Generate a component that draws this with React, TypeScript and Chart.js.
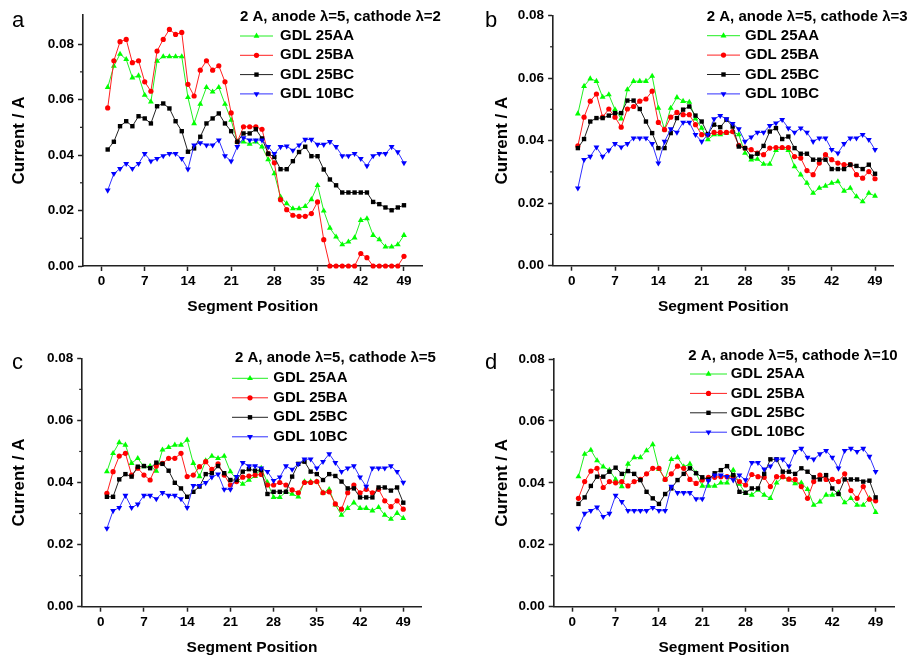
import React, { useEffect, useRef } from "react";
import { Chart, registerables } from "chart.js";

Chart.register(...registerables);

const FONT = "'Liberation Sans', Arial, Helvetica, sans-serif";

// ---------- data ----------
const segments = [
  1, 2, 3, 4, 5, 6, 7, 8, 9, 10, 11, 12, 13, 14, 15, 16, 17, 18, 19, 20, 21, 22, 23, 24, 25,
  26, 27, 28, 29, 30, 31, 32, 33, 34, 35, 36, 37, 38, 39, 40, 41, 42, 43, 44, 45, 46, 47, 48, 49,
];
const xTicks = [0, 7, 14, 21, 28, 35, 42, 49];
const yTicks = [0, 0.02, 0.04, 0.06, 0.08];
const yMinorTicks = [0.01, 0.03, 0.05, 0.07];
const seriesNames = ["GDL 25AA", "GDL 25BA", "GDL 25BC", "GDL 10BC"];
const panelTitles = [
  "2 A, anode λ=5, cathode λ=2",
  "2 A, anode λ=5, cathode λ=3",
  "2 A, anode λ=5, cathode λ=5",
  "2 A, anode λ=5, cathode λ=10",
];
const panelLetters = ["a", "b", "c", "d"];
const xTitle = "Segment Position";
const yTitle = "Current / A";

// cathode λ=2
const lam2_25AA = [
  0.0644, 0.0721, 0.0764, 0.0745, 0.0679, 0.0686, 0.0616, 0.0592, 0.0739, 0.0755,
  0.0755, 0.0755, 0.0755, 0.0608, 0.0514, 0.0584, 0.0644, 0.0628, 0.0644, 0.0584,
  0.0526, 0.0448, 0.0448, 0.044, 0.0448, 0.043, 0.0384, 0.0333, 0.0249, 0.0225,
  0.0207, 0.0207, 0.0215, 0.024, 0.0291, 0.0199, 0.0137, 0.0105, 0.0077, 0.0087,
  0.0102, 0.0165, 0.0171, 0.0111, 0.0095, 0.0069, 0.0069, 0.0077, 0.0111,
];
const lam2_25BA = [
  0.057, 0.074, 0.0809, 0.0817, 0.0733, 0.074, 0.0664, 0.063, 0.0775, 0.0817,
  0.0853, 0.0835, 0.0842, 0.0655, 0.0613, 0.0706, 0.074, 0.0706, 0.0722, 0.0664,
  0.0552, 0.0448, 0.0502, 0.0502, 0.0502, 0.0493, 0.0405, 0.0372, 0.0239, 0.0203,
  0.0183, 0.0179, 0.0179, 0.0189, 0.0231, 0.0095, 0, 0, 0, 0,
  0, 0.0045, 0.003, 0, 0, 0, 0, 0, 0.0035,
];
const lam2_25BC = [
  0.042, 0.0448, 0.0504, 0.0522, 0.0504, 0.054, 0.0532, 0.0514, 0.0576, 0.0586,
  0.0568, 0.0522, 0.0486, 0.0412, 0.0424, 0.0466, 0.0514, 0.0532, 0.055, 0.0514,
  0.0486, 0.0448, 0.0478, 0.0478, 0.0493, 0.046, 0.0405, 0.0393, 0.0349, 0.0349,
  0.0378, 0.0411, 0.043, 0.0396, 0.0396, 0.0348, 0.0312, 0.0291, 0.0265, 0.0265,
  0.0265, 0.0265, 0.0265, 0.0231, 0.0223, 0.0211, 0.0201, 0.0211, 0.0219,
];
const lam2_10BC = [
  0.0273, 0.0333, 0.0351, 0.0369, 0.0351, 0.0369, 0.0405, 0.0378, 0.0387, 0.0397,
  0.0405, 0.0405, 0.0387, 0.0349, 0.0436, 0.0444, 0.0436, 0.0436, 0.0454, 0.0397,
  0.0378, 0.043, 0.0462, 0.0454, 0.0454, 0.0454, 0.043, 0.0405, 0.043, 0.0432,
  0.0417, 0.0436, 0.0456, 0.0456, 0.0438, 0.0438, 0.0448, 0.043, 0.0397, 0.0397,
  0.0405, 0.0387, 0.0361, 0.0397, 0.0405, 0.0405, 0.043, 0.0411, 0.0372,
];

// cathode λ=3
const lam3_25AA = [
  0.0486, 0.0574, 0.0598, 0.059, 0.0539, 0.0547, 0.0499, 0.047, 0.0563, 0.059,
  0.059, 0.059, 0.0606, 0.0504, 0.0435, 0.0504, 0.0538, 0.0526, 0.0523, 0.047,
  0.044, 0.0403, 0.0419, 0.0419, 0.0424, 0.0429, 0.0419, 0.036, 0.0339, 0.0341,
  0.0325, 0.0325, 0.0369, 0.0376, 0.0369, 0.0317, 0.0291, 0.0264, 0.0232, 0.0248,
  0.0255, 0.0264, 0.0269, 0.0239, 0.0248, 0.0221, 0.0205, 0.0232, 0.0223,
];
const lam3_25BA = [
  0.0383, 0.0475, 0.0526, 0.0549, 0.0475, 0.0501, 0.0475, 0.0443, 0.0501, 0.0509,
  0.0526, 0.0533, 0.0558, 0.0458, 0.0435, 0.0475, 0.049, 0.0483, 0.0483, 0.0451,
  0.0419, 0.0419, 0.0426, 0.0426, 0.0426, 0.0429, 0.0385, 0.0376, 0.0371, 0.036,
  0.0355, 0.0376, 0.0378, 0.0378, 0.0378, 0.0349, 0.0344, 0.0304, 0.0291, 0.0328,
  0.0355, 0.0339, 0.0328, 0.0323, 0.0323, 0.0291, 0.028, 0.0301, 0.0278,
];
const lam3_25BC = [
  0.0376, 0.0405, 0.0461, 0.0472, 0.0472, 0.048, 0.0488, 0.0488, 0.0528, 0.0528,
  0.0501, 0.0461, 0.0424, 0.0376, 0.0376, 0.0424, 0.0472, 0.0499, 0.0509, 0.048,
  0.0461, 0.0421, 0.0451, 0.0443, 0.0467, 0.0445, 0.0381, 0.0376, 0.0349, 0.0358,
  0.0383, 0.0429, 0.044, 0.0405, 0.0413, 0.0376, 0.0358, 0.0358, 0.0339, 0.0339,
  0.0339, 0.0309, 0.0309, 0.0309, 0.0323, 0.0319, 0.0309, 0.0323, 0.0294,
];
const lam3_10BC = [
  0.0248, 0.0339, 0.0349, 0.0379, 0.0349, 0.0369, 0.039, 0.0379, 0.039, 0.0408,
  0.0408, 0.0408, 0.039, 0.0328, 0.0397, 0.0437, 0.0426, 0.0458, 0.0458, 0.0419,
  0.0397, 0.0419, 0.0469, 0.048, 0.0469, 0.0454, 0.0437, 0.0397, 0.0411, 0.0426,
  0.0426, 0.0448, 0.0456, 0.0467, 0.044, 0.0426, 0.044, 0.0426, 0.0397, 0.0408,
  0.0408, 0.0371, 0.036, 0.039, 0.0408, 0.0408, 0.0419, 0.0403, 0.0371,
];

// cathode λ=5
const lam5_25AA = [
  0.0435, 0.0494, 0.0529, 0.0521, 0.0462, 0.0478, 0.0451, 0.0453, 0.0437, 0.0505,
  0.0513, 0.0521, 0.0521, 0.0537, 0.0462, 0.0419, 0.047, 0.0485, 0.0478, 0.0485,
  0.0435, 0.041, 0.0395, 0.0408, 0.042, 0.0446, 0.04, 0.0352, 0.0352, 0.037,
  0.0363, 0.0354, 0.0403, 0.0403, 0.0403, 0.0367, 0.0378, 0.0328, 0.0295, 0.0317,
  0.0335, 0.0317, 0.0317, 0.0309, 0.032, 0.0295, 0.0282, 0.0301, 0.0285,
];
const lam5_25BA = [
  0.0365, 0.0435, 0.0485, 0.0494, 0.0424, 0.0446, 0.0424, 0.0408, 0.0453, 0.0462,
  0.0478, 0.0478, 0.0494, 0.0419, 0.0424, 0.0451, 0.0467, 0.0442, 0.046, 0.0424,
  0.0392, 0.0403, 0.0417, 0.0421, 0.0424, 0.0426, 0.0392, 0.0392, 0.04, 0.0392,
  0.0376, 0.0367, 0.04, 0.04, 0.0403, 0.0367, 0.037, 0.0331, 0.0314, 0.0367,
  0.0392, 0.0367, 0.0378, 0.0367, 0.0378, 0.0341, 0.0322, 0.0341, 0.0314,
];
const lam5_25BC = [
  0.0354, 0.0354, 0.041, 0.0427, 0.0419, 0.0451, 0.0453, 0.0446, 0.0464, 0.046,
  0.0438, 0.0399, 0.0381, 0.0354, 0.037, 0.0387, 0.0427, 0.043, 0.0453, 0.043,
  0.0408, 0.0408, 0.0435, 0.0443, 0.0438, 0.044, 0.0363, 0.037, 0.037, 0.037,
  0.0419, 0.046, 0.0467, 0.0435, 0.0427, 0.0408, 0.0427, 0.0421, 0.0403, 0.0381,
  0.0381, 0.0352, 0.0352, 0.0352, 0.0384, 0.0384, 0.0374, 0.0384, 0.0335,
];
const lam5_10BC = [
  0.0252, 0.0309, 0.0319, 0.0358, 0.0319, 0.033, 0.0358, 0.0358, 0.0347, 0.0367,
  0.0358, 0.0358, 0.0347, 0.0319, 0.039, 0.039, 0.0399, 0.0417, 0.0427, 0.0378,
  0.0378, 0.0419, 0.0464, 0.0453, 0.0453, 0.0446, 0.0435, 0.0406, 0.0417, 0.0453,
  0.0442, 0.046, 0.0475, 0.0475, 0.0446, 0.0467, 0.0492, 0.0464, 0.0435, 0.0446,
  0.0453, 0.0417, 0.0387, 0.0446, 0.0446, 0.0446, 0.0453, 0.0435, 0.04,
];

// cathode λ=10
const lam10_25AA = [
  0.042, 0.0493, 0.0506, 0.0472, 0.0452, 0.0441, 0.0411, 0.0388, 0.0461, 0.0482,
  0.0482, 0.0504, 0.0524, 0.0444, 0.0411, 0.0476, 0.0482, 0.0452, 0.0461, 0.0431,
  0.039, 0.039, 0.039, 0.04, 0.04, 0.0441, 0.0396, 0.0366, 0.0361, 0.0377,
  0.0361, 0.035, 0.04, 0.0418, 0.0411, 0.0398, 0.04, 0.0379, 0.0328, 0.0339,
  0.0361, 0.0361, 0.0368, 0.0336, 0.035, 0.0328, 0.0328, 0.035, 0.0305,
];
const lam10_25BA = [
  0.035, 0.0404, 0.0438, 0.0447, 0.0385, 0.0404, 0.04, 0.0404, 0.039, 0.0404,
  0.0411, 0.0429, 0.0447, 0.0447, 0.0411, 0.0429, 0.0454, 0.0447, 0.0411, 0.0398,
  0.0409, 0.0418, 0.0418, 0.042, 0.042, 0.042, 0.0404, 0.0393, 0.0427, 0.042,
  0.0418, 0.0388, 0.042, 0.042, 0.0412, 0.0411, 0.0388, 0.035, 0.0404, 0.0425,
  0.0411, 0.0411, 0.0404, 0.0429, 0.0375, 0.035, 0.0388, 0.0347, 0.0342,
];
const lam10_25BC = [
  0.0332, 0.0353, 0.039, 0.042, 0.042, 0.0436, 0.0449, 0.0429, 0.0438, 0.0429,
  0.0409, 0.0371, 0.035, 0.0332, 0.0364, 0.0382, 0.0409, 0.0429, 0.0447, 0.0431,
  0.0418, 0.0411, 0.0431, 0.0441, 0.0454, 0.0425, 0.0371, 0.0368, 0.0382, 0.0382,
  0.0429, 0.0476, 0.0476, 0.0436, 0.0436, 0.0429, 0.0447, 0.0436, 0.0418, 0.0411,
  0.0425, 0.0382, 0.0364, 0.0411, 0.0411, 0.0411, 0.0404, 0.0407, 0.0353,
];
const lam10_10BC = [
  0.0253, 0.0301, 0.031, 0.0321, 0.0291, 0.0301, 0.0359, 0.0339, 0.031, 0.031,
  0.031, 0.031, 0.032, 0.031, 0.031, 0.0388, 0.0368, 0.0368, 0.0368, 0.0348,
  0.0348, 0.0407, 0.0425, 0.0425, 0.042, 0.0409, 0.0425, 0.0409, 0.0465, 0.0465,
  0.0444, 0.0454, 0.0476, 0.0476, 0.0454, 0.0501, 0.0511, 0.0482, 0.0476, 0.0493,
  0.0504, 0.0482, 0.0447, 0.0504, 0.0511, 0.0501, 0.0511, 0.0485, 0.0436,
];

const panelSeries = [
  [lam2_25AA, lam2_25BA, lam2_25BC, lam2_10BC],
  [lam3_25AA, lam3_25BA, lam3_25BC, lam3_10BC],
  [lam5_25AA, lam5_25BA, lam5_25BC, lam5_10BC],
  [lam10_25AA, lam10_25BA, lam10_25BC, lam10_10BC],
];

// ---------- styles ----------
const markerColors = ["#00ff00", "#ff0000", "#000000", "#0000ff"];
const lineColors = ["#22ee22", "#ff2020", "#222222", "#3030ff"];
const pointStyles = ["triangle", "circle", "rect", "triangle"];
const pointRotations = [0, 0, 0, 180];
const pointRadii = [3.4, 2.6, 3.1, 3.4];
const AXIS_COLOR = "#222";

const layouts = [
  {
    left: 0, top: 0, w: 453, h: 331, yAxisW: 83, padTop: 15, padRight: 30.5, xAxisH: 65,
    yMax: 0.0905, yTitlePad: 9.5, xTitlePad: 15,
    legend: { titleX: 240, titleY: 17, lineX: 240, rowY: 36, step: 19.3, lineLen: 33, textX: 280 },
    letter: { x: 12, y: 27 },
  },
  {
    left: 453, top: 0, w: 454, h: 331, yAxisW: 100.1, padTop: 15.5, padRight: 13.4, xAxisH: 65.3,
    yMax: 0.08, yTitlePad: 38.8, xTitlePad: 15,
    legend: { titleX: 253.7, titleY: 17, lineX: 254, rowY: 35.7, step: 19.4, lineLen: 33, textX: 292 },
    letter: { x: 32, y: 27 },
  },
  {
    left: 0, top: 331, w: 453, h: 332, yAxisW: 82.2, padTop: 27.3, padRight: 31.2, xAxisH: 56.3,
    yMax: 0.08, yTitlePad: 9.5, xTitlePad: 5.7,
    legend: { titleX: 235, titleY: 27.3, lineX: 232, rowY: 47.3, step: 19.5, lineLen: 36, textX: 273.3 },
    letter: { x: 12, y: 38 },
  },
  {
    left: 453, top: 331, w: 454, h: 332, yAxisW: 100.7, padTop: 28, padRight: 12.8, xAxisH: 56.3,
    yMax: 0.08, yTitlePad: 38.8, xTitlePad: 5.7,
    legend: { titleX: 235.3, titleY: 25, lineX: 237, rowY: 43, step: 19.4, lineLen: 37, textX: 277.7 },
    letter: { x: 32, y: 38 },
  },
];

function drawMarker(ctx: CanvasRenderingContext2D, s: number, x: number, y: number) {
  const r = pointRadii[s];
  ctx.fillStyle = markerColors[s];
  ctx.beginPath();
  if (pointStyles[s] === "circle") {
    ctx.arc(x, y, r, 0, Math.PI * 2);
  } else if (pointStyles[s] === "rect") {
    const h = r * Math.SQRT1_2;
    ctx.rect(x - h, y - h, 2 * h, 2 * h);
  } else {
    let rad = (pointRotations[s] * Math.PI) / 180;
    ctx.moveTo(x + Math.sin(rad) * r, y - Math.cos(rad) * r);
    rad += (2 * Math.PI) / 3;
    ctx.lineTo(x + Math.sin(rad) * r, y - Math.cos(rad) * r);
    rad += (2 * Math.PI) / 3;
    ctx.lineTo(x + Math.sin(rad) * r, y - Math.cos(rad) * r);
    ctx.closePath();
  }
  ctx.fill();
}

function Panel({ idx }: { idx: number }) {
  const ref = useRef<HTMLCanvasElement>(null);
  const L = layouts[idx];

  useEffect(() => {
    if (!ref.current) return;
    const series = panelSeries[idx];
    const datasets = series.map((vals, s) => ({
      label: seriesNames[s],
      data: segments.map((x, i) => ({ x, y: vals[i] })),
      borderColor: lineColors[s],
      backgroundColor: markerColors[s],
      pointBackgroundColor: markerColors[s],
      pointBorderColor: markerColors[s],
      pointBorderWidth: 0,
      borderWidth: 1,
      pointStyle: pointStyles[s] as any,
      pointRotation: pointRotations[s],
      pointRadius: pointRadii[s],
      pointHoverRadius: pointRadii[s],
      tension: 0,
      clip: false as any,
      order: 3 - s,
    }));

    const overlay = {
      id: "overlay" + idx,
      afterDraw(chart: any) {
        const ctx: CanvasRenderingContext2D = chart.ctx;
        const yScale = chart.scales.y;
        const area = chart.chartArea;
        ctx.save();
        // minor ticks
        ctx.strokeStyle = AXIS_COLOR;
        ctx.lineWidth = 1.2;
        yMinorTicks.forEach((v) => {
          const py = yScale.getPixelForValue(v);
          ctx.beginPath();
          ctx.moveTo(area.left - 3, py);
          ctx.lineTo(area.left, py);
          ctx.stroke();
        });
        // panel letter
        ctx.fillStyle = "#000";
        ctx.font = `22px ${FONT}`;
        ctx.textAlign = "left";
        ctx.textBaseline = "alphabetic";
        ctx.fillText(panelLetters[idx], L.letter.x, L.letter.y);
        // legend
        const lg = L.legend;
        ctx.font = `bold 15px ${FONT}`;
        ctx.textBaseline = "middle";
        ctx.fillText(panelTitles[idx], lg.titleX, lg.titleY);
        seriesNames.forEach((name, s) => {
          const y = lg.rowY + s * lg.step;
          ctx.strokeStyle = lineColors[s];
          ctx.lineWidth = 1;
          ctx.beginPath();
          ctx.moveTo(lg.lineX, y);
          ctx.lineTo(lg.lineX + lg.lineLen, y);
          ctx.stroke();
          drawMarker(ctx, s, lg.lineX + lg.lineLen / 2, y);
          ctx.fillStyle = "#000";
          ctx.fillText(name, lg.textX, y);
        });
        ctx.restore();
      },
    };

    const tickFont = { family: FONT, size: 13.5, weight: "bold" as const };

    const chart = new Chart(ref.current, {
      type: "line",
      data: { datasets: datasets as any },
      options: {
        animation: false,
        responsive: false,
        devicePixelRatio: 1,
        events: [],
        layout: { padding: { left: 0, top: L.padTop, right: L.padRight, bottom: 0 } },
        plugins: { legend: { display: false }, tooltip: { enabled: false } },
        scales: {
          x: {
            type: "linear",
            min: -3,
            max: 52,
            afterBuildTicks: (s: any) => {
              s.ticks = xTicks.map((v) => ({ value: v }));
            },
            afterFit: (s: any) => {
              s.height = L.xAxisH;
            },
            ticks: {
              autoSkip: false,
              maxRotation: 0,
              minRotation: 0,
              padding: 2,
              color: "#000",
              font: tickFont,
              callback: (v: any) => String(v),
            },
            grid: {
              drawOnChartArea: false,
              drawTicks: true,
              tickLength: 5,
              tickWidth: 1.5,
              tickColor: AXIS_COLOR,
            },
            border: { display: true, color: AXIS_COLOR, width: 1.6 },
            title: {
              display: true,
              text: xTitle,
              color: "#000",
              font: { family: FONT, size: 15.5, weight: "bold" },
              padding: { top: 0, bottom: L.xTitlePad },
            },
          },
          y: {
            type: "linear",
            min: 0,
            max: L.yMax,
            afterBuildTicks: (s: any) => {
              s.ticks = yTicks.map((v) => ({ value: v }));
            },
            afterFit: (s: any) => {
              s.width = L.yAxisW;
            },
            ticks: {
              padding: 4,
              color: "#000",
              font: tickFont,
              callback: (v: any) => Number(v).toFixed(2),
            },
            grid: {
              drawOnChartArea: false,
              drawTicks: true,
              tickLength: 5,
              tickWidth: 1.5,
              tickColor: AXIS_COLOR,
            },
            border: { display: true, color: AXIS_COLOR, width: 1.6 },
            title: {
              display: true,
              text: yTitle,
              color: "#000",
              font: { family: FONT, size: 17, weight: "bold" },
              padding: { top: L.yTitlePad, bottom: 0 },
            },
          },
        },
      },
      plugins: [overlay],
    });
    return () => chart.destroy();
  }, [idx]);

  return (
    <canvas
      ref={ref}
      width={L.w}
      height={L.h}
      style={{ position: "absolute", left: L.left, top: L.top, width: L.w, height: L.h }}
    />
  );
}

export default function App() {
  return (
    <div
      style={{
        position: "absolute",
        left: 0,
        top: 0,
        width: 907,
        height: 663,
        background: "#fff",
        overflow: "hidden",
      }}
    >
      {layouts.map((_, i) => (
        <Panel key={i} idx={i} />
      ))}
    </div>
  );
}
